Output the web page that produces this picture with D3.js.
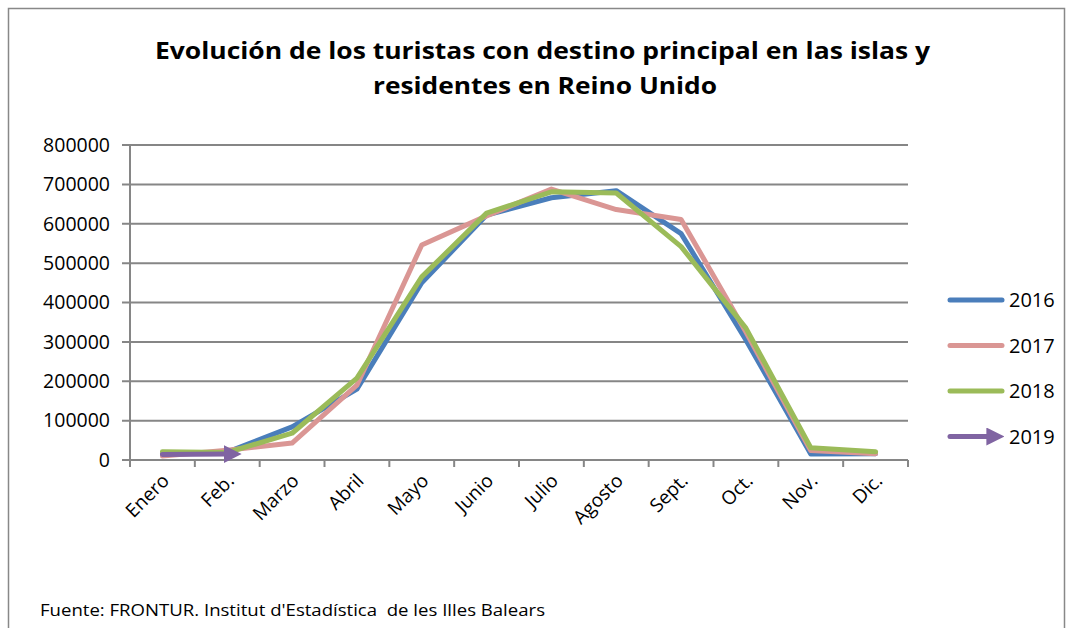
<!DOCTYPE html>
<html lang="es">
<head>
<meta charset="utf-8">
<script src="https://d3js.org/d3.v7.min.js"></script>
<style>
  body { margin: 0; background: #fff; }
  text { font-family: "Open Sans", "Noto Sans", sans-serif; fill: #000; }
</style>
</head>
<body>
<div id="grafico"></div>
<script>
    const meses = ['Enero', 'Feb.', 'Marzo', 'Abril', 'Mayo', 'Junio', 'Julio', 'Agosto', 'Sept.', 'Oct.', 'Nov.', 'Dic.'];
    const anios = ['2016', '2017', '2018', '2019'];
    const valores2016 = [15000, 20000, 84000, 180000, 450000, 622000, 666000, 684000, 575000, 305000, 15000, 16000];
    const valores2017 = [10000, 25000, 43000, 190000, 546000, 620000, 688000, 636000, 611000, 325000, 24000, 16000];
    const valores2018 = [21000, 19000, 68000, 208000, 465000, 627000, 681000, 678000, 542000, 335000, 31000, 21000];
    const valores2019 = [14000, 15000];
    const ticksY = [0, 100000, 200000, 300000, 400000, 500000, 600000, 700000, 800000];
    const couleurs = ['#4a7ebb', '#da9694', '#9bbb59', '#8064a2'];

    const series = [valores2016, valores2017, valores2018, valores2019];

    const largeur = 1073, hauteur = 628;
    const svg = d3.select('#grafico').append('svg')
        .attr('width', largeur)
        .attr('height', hauteur);

    // cadre
    svg.append('path')
        .attr('d', 'M8.5,628 L8.5,8.5 L1064.5,8.5 L1064.5,628')
        .attr('fill', 'none')
        .attr('stroke', '#888')
        .attr('stroke-width', 1.5);

    // titre
    const titre = svg.append('text')
        .attr('font-weight', 'bold')
        .attr('font-size', 24);
    titre.append('tspan').attr('x', 155).attr('y', 59)
        .attr('textLength', 775).attr('lengthAdjust', 'spacingAndGlyphs')
        .text('Evolución de los turistas con destino principal en las islas y');
    titre.append('tspan').attr('x', 373).attr('y', 94)
        .attr('textLength', 344).attr('lengthAdjust', 'spacingAndGlyphs')
        .text('residentes en Reino Unido');

    const x = d3.scaleBand().domain(meses).range([130, 908]);
    const y = d3.scaleLinear().domain([0, 800000]).range([460, 145]);

    // grille
    svg.append('g')
        .selectAll('line')
        .data(ticksY)
        .join('line')
        .attr('x1', 122)
        .attr('x2', 908)
        .attr('y1', d => y(d))
        .attr('y2', d => y(d))
        .attr('stroke', '#868686')
        .attr('stroke-width', 2);

    // axe vertical
    svg.append('line')
        .attr('x1', 130).attr('x2', 130)
        .attr('y1', y(800000)).attr('y2', 466)
        .attr('stroke', '#868686')
        .attr('stroke-width', 2);

    // graduations x
    svg.append('g')
        .selectAll('line')
        .data(meses.concat(['fin']))
        .join('line')
        .attr('x1', (d, i) => 130 + i * x.step())
        .attr('x2', (d, i) => 130 + i * x.step())
        .attr('y1', 460)
        .attr('y2', 467)
        .attr('stroke', '#868686')
        .attr('stroke-width', 2);

    // etiquettes y
    svg.append('g')
        .selectAll('text')
        .data(ticksY)
        .join('text')
        .attr('x', 110)
        .attr('y', d => y(d))
        .attr('dy', '0.35em')
        .attr('text-anchor', 'end')
        .attr('font-size', 19.5)
        .text(d => d);

    // etiquettes x
    svg.append('g')
        .selectAll('text')
        .data(meses)
        .join('text')
        .attr('text-anchor', 'end')
        .attr('font-size', 19)
        .attr('transform', d => `translate(${x(d) + x.bandwidth() / 2 + 8},${482}) rotate(-45)`)
        .text(d => d);

    // fleche
    svg.append('defs').append('marker')
        .attr('id', 'fleche')
        .attr('viewBox', '0 0 10 10')
        .attr('refX', 2)
        .attr('refY', 5)
        .attr('markerWidth', 3.6)
        .attr('markerHeight', 3.6)
        .attr('orient', 'auto')
        .append('path')
        .attr('d', 'M0,0 L10,5 L0,10 Z')
        .attr('fill', couleurs[3]);

    const ligne = d3.line()
        .x((d, i) => x(meses[i]) + x.bandwidth() / 2)
        .y(d => y(d));

    series.forEach((valeurs, s) => {
        svg.append('path')
            .datum(valeurs)
            .attr('d', ligne)
            .attr('fill', 'none')
            .attr('stroke', couleurs[s])
            .attr('stroke-width', 5)
            .attr('stroke-linejoin', 'round')
            .attr('stroke-linecap', 'round')
            .attr('marker-end', s === 3 ? 'url(#fleche)' : null);
    });

    // legende
    const legende = svg.append('g')
        .selectAll('g')
        .data(anios)
        .join('g')
        .attr('transform', (d, i) => `translate(0,${300 + i * 45.5})`);

    legende.append('line')
        .attr('x1', 950)
        .attr('x2', (d, i) => i === 3 ? 990 : 1002)
        .attr('stroke', (d, i) => couleurs[i])
        .attr('stroke-width', 5)
        .attr('stroke-linecap', 'round')
        .attr('marker-end', (d, i) => i === 3 ? 'url(#fleche)' : null);

    legende.append('text')
        .attr('x', 1009)
        .attr('dy', '0.35em')
        .attr('font-size', 20)
        .text(d => d);

    // source
    svg.append('text')
        .attr('x', 40)
        .attr('y', 616)
        .attr('font-size', 17)
        .attr('xml:space', 'preserve')
        .attr('textLength', 505)
        .attr('lengthAdjust', 'spacingAndGlyphs')
        .text("Fuente: FRONTUR. Institut d'Estadística  de les Illes Balears");
</script>
</body>
</html>
